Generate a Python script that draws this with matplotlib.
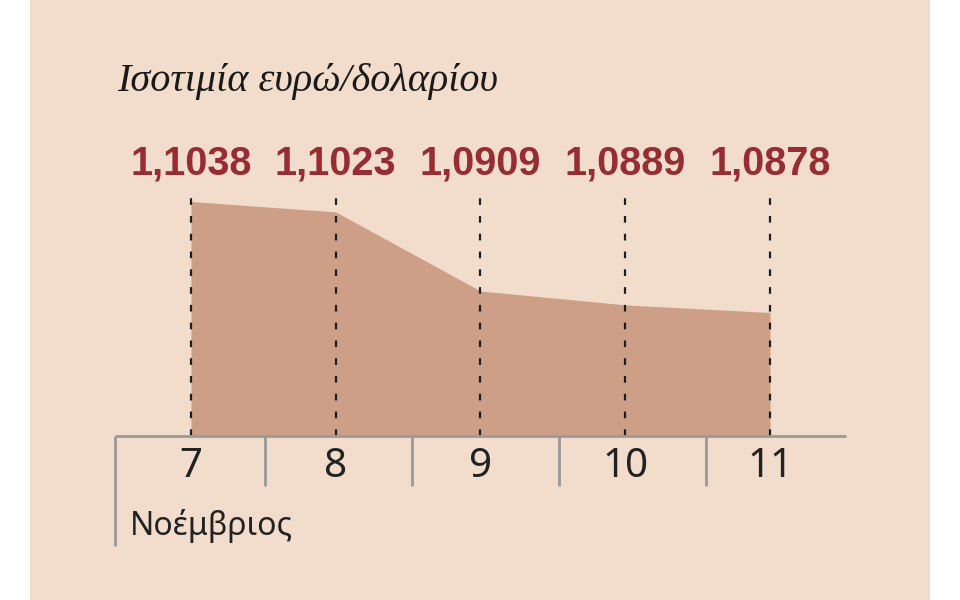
import matplotlib.pyplot as plt
import matplotlib.transforms as mtransforms
from matplotlib.patches import Rectangle

# Δεδομένα
days = [7, 8, 9, 10, 11]
rates = [1.1038, 1.1023, 1.0909, 1.0889, 1.0878]
rate_labels = ["1,1038", "1,1023", "1,0909", "1,0889", "1,0878"]
title = "Ισοτιμία ευρώ/δολαρίου"
month = "Νοέμβριος"

BG = "#f2dccb"
FILL = "#cc9f86"
RED = "#972d34"
GRAY = "#9a9a9a"

fig = plt.figure(figsize=(9.6, 6), dpi=100)
fig.patch.set_facecolor("white")
fig.patches.append(Rectangle((30 / 960, 0), 900 / 960, 1, transform=fig.transFigure,
                             facecolor=BG, edgecolor="none", zorder=-5))

# άξονας: x 115..846 px, y 190..436 px
ax = fig.add_axes([115 / 960, (600 - 436) / 600, (846 - 115) / 960, (436 - 190) / 600])
ax.set_zorder(1)
ax.set_facecolor("none")
ax.set_xlim(6.475, 11.525)
ax.set_ylim(1.07, 1.07 + 246 / 6937.5)
for s in ax.spines.values():
    s.set_visible(False)
ax.set_xticks([])
ax.set_yticks([])

ax.fill_between(days, rates, 1.07, color=FILL, linewidth=0, zorder=1)
ax.vlines(days, 1.07, ax.get_ylim()[1], colors="#1e1e1e", linestyles=(0, (3, 5)),
          linewidth=1.6, zorder=2)

trans = mtransforms.blended_transform_factory(ax.transData, ax.transAxes)
for d, lab in zip(days, rate_labels):
    ax.text(d, 1.061, lab, transform=trans, ha="center", va="baseline", color=RED,
            fontsize=28.5, fontweight="bold", family="Liberation Sans", clip_on=False)
    ax.text(d, -0.125, str(d), transform=trans, ha="center", va="center",
            color="#222222", fontsize=29, family="Noto Sans", clip_on=False)

# γραμμές άξονα
ax.plot([6.475, 11.525], [0, 0], transform=trans, color=GRAY, linewidth=2,
        clip_on=False, zorder=3, solid_capstyle="butt")
ax.plot([6.475, 6.475], [0, -0.447], transform=trans, color=GRAY, linewidth=2,
        clip_on=False, zorder=3, solid_capstyle="butt")
for sx in [7.511, 8.527, 9.542, 10.558]:
    ax.plot([sx, sx], [0, -0.205], transform=trans, color=GRAY, linewidth=2,
            clip_on=False, zorder=3, solid_capstyle="butt")

fig.text(117 / 960, 1 - 81 / 600, title, ha="left", va="center", fontsize=29,
         style="italic", family="Liberation Serif", color="#1a1a1a")
fig.text(130 / 960, 1 - 526 / 600, month, ha="left", va="center", fontsize=23,
         family="Noto Sans", color="#222222")

fig.savefig("out.png", dpi=100, facecolor=fig.get_facecolor())
